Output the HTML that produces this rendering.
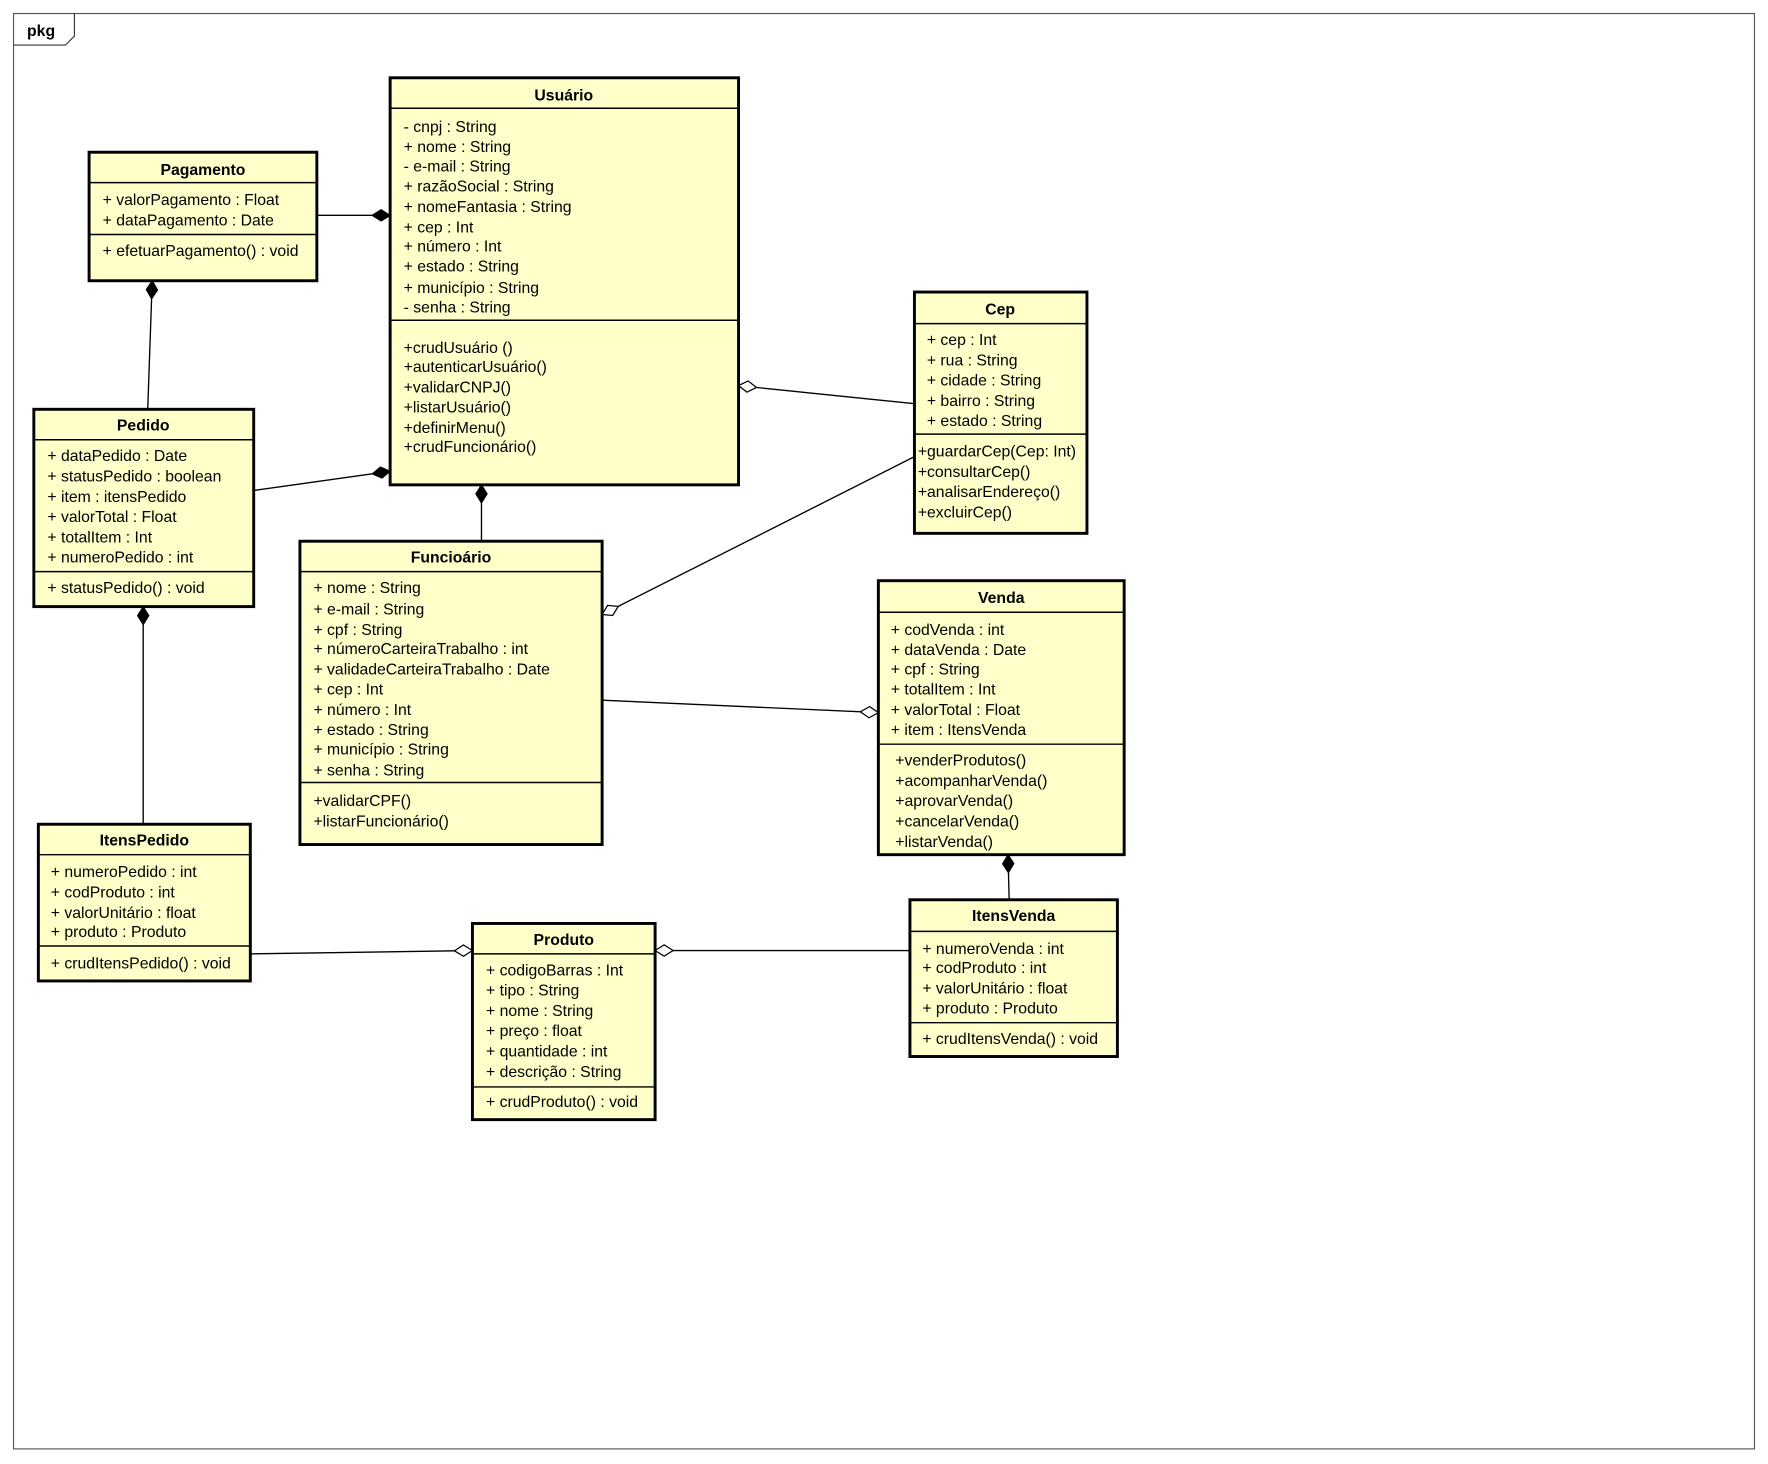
<!DOCTYPE html>
<html><head><meta charset="utf-8"><style>
html,body{margin:0;padding:0;background:#fff}
svg{display:block}
text{font-family:"Liberation Sans",Arial,sans-serif;font-size:14px;fill:#000}
.t{font-weight:bold;text-anchor:middle}
.b{fill:#ffffc9;stroke:#000;stroke-width:2.6}
.d{stroke:#000;stroke-width:1.3}
.l{stroke:#000;stroke-width:1.2;fill:none}
.f{fill:#000;stroke:#000;stroke-width:1}
.h{fill:#fff;stroke:#000;stroke-width:1.1}
</style></head><body>
<svg width="1768" height="1464" viewBox="0 0 1568 1298.4" xmlns="http://www.w3.org/2000/svg">
<rect x="12" y="12" width="1544" height="1273" fill="#fff" stroke="#555" stroke-width="1"/>
<path d="M12,40 H58 L66,32 V12" fill="none" stroke="#333" stroke-width="1"/>
<text x="24" y="32" style="font-weight:bold">pkg</text>

<!-- connectors -->
<line class="l" x1="281" y1="191" x2="346" y2="191"/>
<line class="l" x1="135" y1="249" x2="131" y2="363"/>
<line class="l" x1="225" y1="435" x2="346" y2="418"/>
<line class="l" x1="427" y1="430" x2="427" y2="480"/>
<line class="l" x1="655" y1="342" x2="811" y2="358"/>
<line class="l" x1="534" y1="545" x2="811" y2="405"/>
<line class="l" x1="534" y1="621" x2="779" y2="632"/>
<line class="l" x1="127" y1="538" x2="127" y2="731"/>
<line class="l" x1="222" y1="846" x2="419" y2="843"/>
<line class="l" x1="581" y1="843" x2="807" y2="843"/>
<line class="l" x1="894" y1="758" x2="895" y2="798"/>

<!-- boxes -->
<g>
<rect class="b" x="346" y="69" width="309" height="361"/>
<line class="d" x1="346" y1="96" x2="655" y2="96"/>
<line class="d" x1="346" y1="284" x2="655" y2="284"/>
<text class="t" x="500" y="89">Usuário</text>
<text x="358" y="117">- cnpj : String</text>
<text x="358" y="135">+ nome : String</text>
<text x="358" y="152">- e-mail : String</text>
<text x="358" y="170">+ razãoSocial : String</text>
<text x="358" y="188">+ nomeFantasia : String</text>
<text x="358" y="206">+ cep : Int</text>
<text x="358" y="223">+ número : Int</text>
<text x="358" y="241">+ estado : String</text>
<text x="358" y="260">+ município : String</text>
<text x="358" y="277">- senha : String</text>
<text x="358" y="313">+crudUsuário ()</text>
<text x="358" y="330">+autenticarUsuário()</text>
<text x="358" y="348">+validarCNPJ()</text>
<text x="358" y="366">+listarUsuário()</text>
<text x="358" y="384">+definirMenu()</text>
<text x="358" y="401">+crudFuncionário()</text>
</g>
<g>
<rect class="b" x="79" y="135" width="202" height="114"/>
<line class="d" x1="79" y1="162" x2="281" y2="162"/>
<line class="d" x1="79" y1="208" x2="281" y2="208"/>
<text class="t" x="180" y="155">Pagamento</text>
<text x="91" y="182">+ valorPagamento : Float</text>
<text x="91" y="200">+ dataPagamento : Date</text>
<text x="91" y="227">+ efetuarPagamento() : void</text>
</g>
<g>
<rect class="b" x="30" y="363" width="195" height="175"/>
<line class="d" x1="30" y1="390" x2="225" y2="390"/>
<line class="d" x1="30" y1="507" x2="225" y2="507"/>
<text class="t" x="127" y="382">Pedido</text>
<text x="42" y="409">+ dataPedido : Date</text>
<text x="42" y="427">+ statusPedido : boolean</text>
<text x="42" y="445">+ item : itensPedido</text>
<text x="42" y="463">+ valorTotal : Float</text>
<text x="42" y="481">+ totalItem : Int</text>
<text x="42" y="499">+ numeroPedido : int</text>
<text x="42" y="526">+ statusPedido() : void</text>
</g>
<g>
<rect class="b" x="266" y="480" width="268" height="269"/>
<line class="d" x1="266" y1="507" x2="534" y2="507"/>
<line class="d" x1="266" y1="694" x2="534" y2="694"/>
<text class="t" x="400" y="499">Funcioário</text>
<text x="278" y="526">+ nome : String</text>
<text x="278" y="545">+ e-mail : String</text>
<text x="278" y="563">+ cpf : String</text>
<text x="278" y="580">+ númeroCarteiraTrabalho : int</text>
<text x="278" y="598">+ validadeCarteiraTrabalho : Date</text>
<text x="278" y="616">+ cep : Int</text>
<text x="278" y="634">+ número : Int</text>
<text x="278" y="652">+ estado : String</text>
<text x="278" y="669">+ município : String</text>
<text x="278" y="688">+ senha : String</text>
<text x="278" y="715">+validarCPF()</text>
<text x="278" y="733">+listarFuncionário()</text>
</g>
<g>
<rect class="b" x="811" y="259" width="153" height="214"/>
<line class="d" x1="811" y1="287" x2="964" y2="287"/>
<line class="d" x1="811" y1="385" x2="964" y2="385"/>
<text class="t" x="887" y="279">Cep</text>
<text x="822" y="306">+ cep : Int</text>
<text x="822" y="324">+ rua : String</text>
<text x="822" y="342">+ cidade : String</text>
<text x="822" y="360">+ bairro : String</text>
<text x="822" y="378">+ estado : String</text>
<text x="814" y="405">+guardarCep(Cep: Int)</text>
<text x="814" y="423">+consultarCep()</text>
<text x="814" y="441">+analisarEndereço()</text>
<text x="814" y="459">+excluirCep()</text>
</g>
<g>
<rect class="b" x="779" y="515" width="218" height="243"/>
<line class="d" x1="779" y1="543" x2="997" y2="543"/>
<line class="d" x1="779" y1="660" x2="997" y2="660"/>
<text class="t" x="888" y="535">Venda</text>
<text x="790" y="563">+ codVenda : int</text>
<text x="790" y="581">+ dataVenda : Date</text>
<text x="790" y="598">+ cpf : String</text>
<text x="790" y="616">+ totalItem : Int</text>
<text x="790" y="634">+ valorTotal : Float</text>
<text x="790" y="652">+ item : ItensVenda</text>
<text x="794" y="679">+venderProdutos()</text>
<text x="794" y="697">+acompanharVenda()</text>
<text x="794" y="715">+aprovarVenda()</text>
<text x="794" y="733">+cancelarVenda()</text>
<text x="794" y="751">+listarVenda()</text>
</g>
<g>
<rect class="b" x="34" y="731" width="188" height="139"/>
<line class="d" x1="34" y1="758" x2="222" y2="758"/>
<line class="d" x1="34" y1="839" x2="222" y2="839"/>
<text class="t" x="128" y="750">ItensPedido</text>
<text x="45" y="778">+ numeroPedido : int</text>
<text x="45" y="796">+ codProduto : int</text>
<text x="45" y="814">+ valorUnitário : float</text>
<text x="45" y="831">+ produto : Produto</text>
<text x="45" y="859">+ crudItensPedido() : void</text>
</g>
<g>
<rect class="b" x="419" y="819" width="162" height="174"/>
<line class="d" x1="419" y1="846" x2="581" y2="846"/>
<line class="d" x1="419" y1="964" x2="581" y2="964"/>
<text class="t" x="500" y="838">Produto</text>
<text x="431" y="865">+ codigoBarras : Int</text>
<text x="431" y="883">+ tipo : String</text>
<text x="431" y="901">+ nome : String</text>
<text x="431" y="919">+ preço : float</text>
<text x="431" y="937">+ quantidade : int</text>
<text x="431" y="955">+ descrição : String</text>
<text x="431" y="982">+ crudProduto() : void</text>
</g>
<g>
<rect class="b" x="807" y="798" width="184" height="139"/>
<line class="d" x1="807" y1="826" x2="991" y2="826"/>
<line class="d" x1="807" y1="907" x2="991" y2="907"/>
<text class="t" x="899" y="817">ItensVenda</text>
<text x="818" y="846">+ numeroVenda : int</text>
<text x="818" y="863">+ codProduto : int</text>
<text x="818" y="881">+ valorUnitário : float</text>
<text x="818" y="899">+ produto : Produto</text>
<text x="818" y="926">+ crudItensVenda() : void</text>
</g>

<!-- diamonds -->
<g>
<polygon class="f" points="0,0 8,-5 16,0 8,5" transform="translate(346,191) rotate(180)"/>
<polygon class="f" points="0,0 8,-5 16,0 8,5" transform="translate(135,249) rotate(92)"/>
<polygon class="f" points="0,0 8,-5 16,0 8,5" transform="translate(346,418) rotate(172)"/>
<polygon class="f" points="0,0 8,-5 16,0 8,5" transform="translate(427,430) rotate(90)"/>
<polygon class="h" points="0,0 8,-5 16,0 8,5" transform="translate(655,342) rotate(5.9)"/>
<polygon class="h" points="0,0 8,-5 16,0 8,5" transform="translate(534,545) rotate(-26.8)"/>
<polygon class="h" points="0,0 8,-5 16,0 8,5" transform="translate(779,632) rotate(182.6)"/>
<polygon class="f" points="0,0 8,-5 16,0 8,5" transform="translate(127,538) rotate(90)"/>
<polygon class="h" points="0,0 8,-5 16,0 8,5" transform="translate(419,843) rotate(179.1)"/>
<polygon class="h" points="0,0 8,-5 16,0 8,5" transform="translate(581,843) rotate(0)"/>
<polygon class="f" points="0,0 8,-5 16,0 8,5" transform="translate(894,758) rotate(88.6)"/>
</g>
</svg>
</body></html>
